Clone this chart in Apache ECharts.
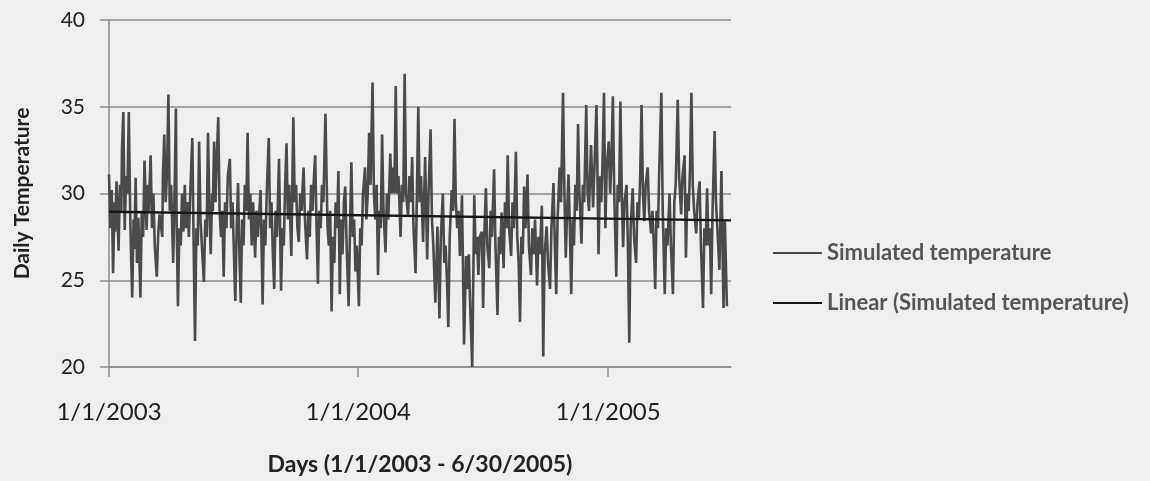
<!DOCTYPE html>
<html>
<head>
<meta charset="utf-8">
<script src="https://cdn.jsdelivr.net/npm/echarts@6/dist/echarts.min.js"></script>
<style>
  html, body { margin: 0; padding: 0; background: #efefef; }
  #chart { width: 1150px; height: 481px; }
</style>
</head>
<body>
<div id="chart"></div>
<script>
// day offsets from 1/1/2003 (rows of 10, paired with temps below)
var days = [
  0, 2, 4, 6, 8, 9, 11, 14, 16, 18,
  19, 21, 23, 25, 27, 29, 31, 32, 34, 36,
  37, 39, 41, 43, 46, 48, 50, 52, 55, 57,
  58, 61, 63, 65, 67, 70, 72, 74, 78, 79,
  81, 83, 85, 87, 89, 91, 94, 96, 98, 99,
  101, 103, 105, 107, 109, 111, 113, 115, 117, 119,
  122, 124, 126, 128, 130, 132, 134, 136, 139, 141,
  143, 145, 147, 149, 151, 152, 154, 156, 157, 160,
  162, 164, 166, 168, 170, 172, 174, 177, 179, 181,
  183, 185, 187, 189, 191, 193, 195, 197, 199, 201,
  203, 205, 207, 209, 211, 214, 216, 218, 222, 225,
  227, 229, 231, 234, 236, 238, 240, 242, 244, 246,
  249, 252, 254, 256, 258, 260, 262, 264, 267, 270,
  272, 274, 276, 278, 280, 282, 285, 287, 290, 292,
  294, 296, 298, 300, 302, 304, 306, 308, 310, 312,
  314, 317, 320, 322, 324, 326, 328, 330, 332, 334,
  336, 338, 340, 342, 344, 346, 348, 351, 353, 355,
  357, 359, 361, 363, 366, 368, 370, 372, 375, 377,
  379, 381, 383, 386, 388, 390, 392, 394, 396, 398,
  400, 402, 405, 407, 409, 412, 414, 416, 418, 420,
  422, 424, 427, 429, 431, 433, 435, 438, 440, 442,
  444, 446, 449, 451, 453,
  455, 457, 460, 463, 466, 468, 471, 473, 475, 478,
  481, 484, 486, 489, 491, 493, 495, 497, 499, 502,
  504, 506, 508, 510, 512, 514, 517, 520, 523, 525,
  527, 529, 532, 535, 537, 539, 541, 543, 546, 548,
  550, 552, 554, 557, 559, 561, 564, 566, 569, 571,
  573, 575, 578, 580, 582, 584, 586, 589, 591, 593,
  596, 598, 600, 602, 604, 606, 608, 610, 613, 615,
  618, 620, 622, 624, 627, 629, 631, 634, 636, 638,
  641, 643, 646, 648, 651, 653, 655, 657, 660, 662,
  665, 667, 669, 671, 673, 675, 677,
  679, 681, 683, 685, 687, 689, 692, 694, 696, 699,
  701, 703, 706, 709, 711, 714, 717, 719, 721, 723,
  725, 727, 729, 732, 734, 736, 738, 740, 743, 745,
  747, 749, 751, 753, 755, 758, 760, 762, 764, 767,
  769, 772, 774, 776, 778, 780, 782, 784, 786, 789,
  791, 794, 796, 798, 800, 802, 804, 806, 809, 811,
  814, 816, 818, 821, 823, 826, 828, 830, 833, 835,
  838, 840, 843, 845, 847, 849, 851, 853, 855, 857,
  860, 862, 865, 867, 870, 872, 874, 876, 878, 880,
  882, 884, 887, 889, 891, 894, 897, 900, 902, 905
];
var temps = [
  31.1, 28.0, 30.2, 25.4, 29.5, 27.8, 30.7, 26.7, 30.5, 29.0,
  32.5, 34.7, 27.9, 31.0, 30.0, 34.7, 29.0, 27.0, 24.0, 28.5,
  26.8, 30.9, 26.0, 28.6, 24.0, 29.0, 27.5, 31.9, 27.9, 30.5,
  29.0, 32.2, 28.0, 30.0, 27.0, 25.2, 27.6, 28.8, 27.5, 31.0,
  33.4, 29.5, 31.2, 35.7, 29.0, 30.5, 26.0, 30.0, 34.9, 28.5,
  23.5, 28.0, 27.0, 30.0, 27.8, 30.5, 28.0, 29.5, 27.5, 30.0,
  33.2, 27.0, 21.5, 28.0, 27.0, 33.0, 28.5, 27.0, 24.9, 28.5,
  27.5, 33.5, 29.0, 26.5, 30.0, 29.0, 33.0, 29.5, 31.0, 34.4,
  29.0, 27.5, 29.0, 25.2, 29.5, 28.0, 31.0, 32.0, 28.0, 29.5,
  26.5, 23.8, 28.0, 30.6, 26.5, 23.7, 28.5, 27.0, 30.5, 29.0,
  33.5, 28.5, 30.0, 27.0, 29.5, 26.3, 29.0, 27.5, 30.2, 23.6,
  28.5, 27.0, 30.0, 33.2, 28.0, 29.5, 26.5, 24.5, 29.0, 27.5,
  32.0, 24.4, 28.0, 27.0, 30.5, 32.9, 28.5, 30.5, 26.4, 34.4,
  29.5, 30.5, 28.0, 27.2, 30.0, 29.0, 31.5, 28.5, 26.2, 29.0,
  27.5, 30.5, 29.0, 30.8, 32.2, 28.0, 24.8, 29.0, 28.0, 30.5,
  29.5, 34.6, 28.1, 27.0, 29.0, 23.2, 27.5, 26.0, 29.5, 28.0,
  31.3, 24.2, 28.5, 26.5, 29.5, 30.4, 27.0, 23.5, 28.0, 31.8,
  27.5, 28.5, 25.5, 27.0, 23.5, 28.0, 27.0, 30.0, 31.5, 28.5,
  30.0, 33.5, 30.5, 36.4, 30.0, 28.5, 30.5, 25.3, 29.0, 28.0,
  33.4, 29.0, 26.6, 30.0, 28.5, 32.3, 30.0, 31.5, 30.0, 36.2,
  30.0, 31.0, 27.5, 30.5, 29.5, 36.9, 30.0, 28.7, 31.0, 29.5,
  32.1, 28.0, 25.4, 30.0, 35.0,
  29.5, 31.0, 27.2, 32.1, 26.2, 30.0, 33.7, 28.5, 27.0, 23.7,
  28.1, 22.8, 27.5, 30.0, 26.0, 27.0, 25.0, 22.3, 27.5, 30.2,
  29.0, 34.3, 29.5, 28.0, 29.0, 26.4, 29.9, 21.3, 26.4, 24.5,
  26.5, 23.5, 20.0, 29.9, 26.5, 27.5, 25.3, 27.5, 27.8, 23.4,
  28.0, 30.3, 27.0, 25.7, 29.0, 27.5, 31.4, 27.0, 23.0, 27.5,
  26.5, 28.9, 25.7, 29.5, 28.0, 32.2, 28.0, 26.4, 29.5, 28.0,
  32.4, 27.5, 26.0, 22.6, 27.5, 26.5, 30.4, 28.0, 31.1, 27.0,
  25.3, 28.0, 26.5, 28.5, 24.7, 27.5, 26.5, 29.3, 20.6, 26.5,
  28.1, 26.0, 24.5, 28.0, 30.6, 27.0, 24.2, 28.5, 31.5, 29.5,
  35.8, 30.0, 26.3, 29.0, 31.1, 28.0, 24.2,
  28.5, 27.0, 30.5, 29.0, 34.0, 30.0, 27.1, 30.5, 29.5, 35.1,
  30.0, 29.0, 32.8, 29.2, 31.5, 35.1, 26.5, 31.0, 29.5, 32.0,
  35.8, 28.0, 31.5, 33.0, 30.0, 32.0, 35.6, 30.0, 25.2, 30.5,
  29.5, 35.3, 30.0, 26.9, 29.5, 30.5, 27.0, 21.4, 28.0, 30.3,
  27.5, 26.0, 29.5, 28.5, 31.0, 35.1, 30.0, 28.4, 30.5, 31.5,
  29.0, 27.7, 29.0, 27.0, 24.5, 29.0, 28.0, 31.5, 35.8, 29.0,
  24.2, 28.0, 27.0, 30.0, 27.0, 24.2, 29.5, 30.5, 35.4, 31.0,
  28.8, 31.0, 32.2, 26.3, 30.0, 29.0, 31.5, 35.8, 30.5, 29.0,
  27.7, 29.5, 30.7, 27.0, 23.4, 28.0, 27.0, 30.3, 27.0, 28.0,
  24.2, 29.0, 33.6, 29.5, 28.0, 25.6, 31.3, 23.4, 28.4, 23.5
];
// linear trend end points
var trendDays = [0, 911];
var trendTemps = [28.95, 28.45];

var tickDays = [0, 365, 731];
var tickLabels = ['1/1/2003', '1/1/2004', '1/1/2005'];

var myChart = echarts.init(document.getElementById('chart'));
var axisGray = '#8c8c8c';
var option = {
  backgroundColor: '#efefef',
  textStyle: { fontFamily: 'Lato, "Open Sans", sans-serif' },
  grid: { left: 109, right: 419, top: 20, bottom: 111 },
  legend: {
    orient: 'vertical',
    left: 768,
    top: 237,
    itemWidth: 49,
    itemHeight: 2,
    itemGap: 28,
    icon: 'rect',
    textStyle: { color: '#555', fontSize: 22, fontWeight: 'bold', lineHeight: 21 },
    data: ['Simulated temperature', 'Linear (Simulated temperature)']
  },
  xAxis: {
    type: 'value',
    min: 0,
    max: 911,
    name: 'Days (1/1/2003 - 6/30/2005)',
    nameLocation: 'middle',
    nameGap: 86,
    nameTextStyle: { color: '#222', fontSize: 23, fontWeight: 'bold' },
    axisLine: { lineStyle: { color: axisGray, width: 1.5 } },
    axisTick: { show: true, length: 10, customValues: tickDays, lineStyle: { color: axisGray, width: 1.5 } },
    axisLabel: {
      customValues: tickDays,
      margin: 33,
      color: '#1e1e1e',
      fontSize: 24,
      formatter: function (v) { return tickLabels[tickDays.indexOf(v)]; }
    },
    splitLine: { show: false }
  },
  yAxis: {
    type: 'value',
    min: 20,
    max: 40,
    interval: 5,
    name: 'Daily Temperature',
    nameLocation: 'middle',
    nameRotate: 90,
    nameGap: 76,
    nameTextStyle: { color: '#222', fontSize: 21, fontWeight: 'bold' },
    axisLine: { show: true, lineStyle: { color: axisGray, width: 1.5 } },
    axisTick: { show: true, length: 9, lineStyle: { color: axisGray, width: 1.5 } },
    axisLabel: { margin: 24, color: '#222', fontSize: 21 },
    splitLine: { lineStyle: { color: axisGray, width: 1.5 } }
  },
  series: [
    {
      name: 'Simulated temperature',
      type: 'line',
      symbol: 'none',
      color: '#4a4a4a',
      lineStyle: { color: '#4a4a4a', width: 2.6 },
      data: days.map(function (d, i) { return [d, temps[i]]; }),
      z: 2
    },
    {
      name: 'Linear (Simulated temperature)',
      type: 'line',
      symbol: 'none',
      color: '#151515',
      lineStyle: { color: '#151515', width: 2.4 },
      data: trendDays.map(function (d, i) { return [d, trendTemps[i]]; }),
      z: 3
    }
  ],
  animation: false
};
myChart.setOption(option);
window.addEventListener('resize', function () {
  myChart.resize();
});
</script>
</body>
</html>
